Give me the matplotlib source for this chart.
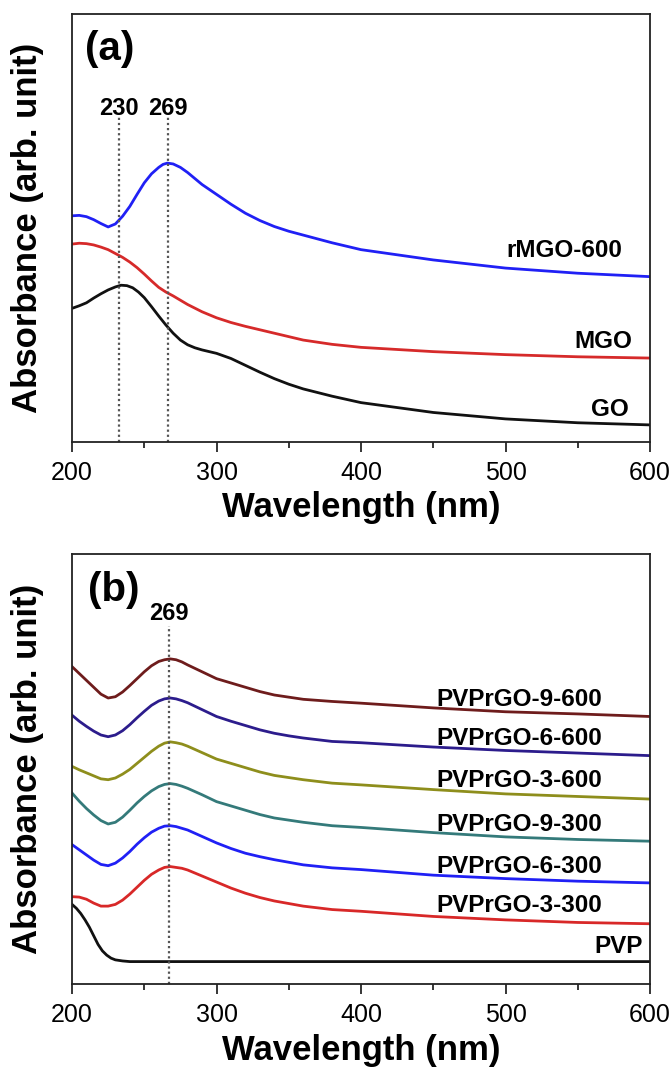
#%%
# UV-vis absorbance spectra, two stacked panels

# IMPORTS #######################################

import matplotlib
matplotlib.use('Agg')
import matplotlib.pyplot as plt
from matplotlib.ticker import MultipleLocator, NullLocator

# SETUP #########################################

plt.rcParams.update({
    'font.family': ['Liberation Sans', 'DejaVu Sans'],
    'font.size': 18,
    'axes.linewidth': 1.3,
})

# DATA ##########################################
# values (arbitrary units, 0..100 = axis height)

# panel (a)
wl_rmgo = [200, 205, 210, 215, 220, 225, 230, 235, 240, 245, 250, 255, 260,
           263, 266, 270, 275, 280, 285, 290, 300, 310, 320, 330, 340, 350,
           360, 380, 400, 450, 500, 550, 600]
abs_rmgo = [52.8, 52.9, 52.6, 51.9, 51.0, 50.2, 50.9, 52.7, 55.0, 57.8, 60.5,
            62.6, 64.1, 64.8, 65.1, 64.9, 64.1, 62.9, 61.5, 60.1, 57.8, 55.5,
            53.4, 51.7, 50.3, 49.2, 48.3, 46.5, 44.9, 42.5, 40.6, 39.4, 38.6]

wl_mgo = [200, 205, 210, 215, 220, 225, 230, 235, 240, 245, 250, 255, 260,
          265, 270, 275, 280, 290, 300, 310, 320, 330, 340, 350, 360, 380,
          400, 450, 500, 550, 600]
abs_mgo = [46.2, 46.4, 46.3, 46.0, 45.5, 44.9, 44.0, 43.1, 42.0, 40.7, 39.2,
           37.6, 36.1, 35.0, 34.1, 33.1, 32.1, 30.4, 29.0, 27.9, 27.0, 26.2,
           25.4, 24.6, 23.8, 22.8, 22.1, 21.1, 20.4, 19.9, 19.6]

wl_go = [200, 205, 210, 215, 220, 225, 230, 234, 238, 242, 246, 250, 255,
         260, 265, 270, 275, 280, 285, 290, 295, 300, 305, 310, 320, 330,
         340, 350, 360, 380, 400, 450, 500, 550, 600]
abs_go = [31.2, 31.8, 32.5, 33.6, 34.6, 35.5, 36.2, 36.6, 36.5, 36.0, 35.0,
          33.7, 31.6, 29.4, 27.3, 25.4, 23.8, 22.7, 22.0, 21.5, 21.1, 20.7,
          20.1, 19.5, 17.9, 16.3, 14.8, 13.5, 12.4, 10.7, 9.2, 6.9, 5.4, 4.5,
          4.0]

labels_a = ['rMGO-600', 'MGO', 'GO']
colors_a = ['#2020f5', '#d62a2a', '#111111']
label_x_a = [581, 588, 585.5]
label_y_a = [43.2, 21.9, 6.1]

peaks_a = [232.7, 266.2]
peak_text_a = ['230', '269']

# panel (b)
wl_b = [200, 205, 210, 215, 220, 225, 230, 235, 240, 245, 250, 255, 260,
        264, 268, 272, 276, 280, 290, 300, 310, 320, 330, 340, 350, 360,
        380, 400, 450, 500, 550, 600]
abs_9_600 = [73.8, 72.2, 70.6, 69.0, 67.4, 66.5, 66.8, 67.9, 69.4, 71.0,
             72.6, 74.0, 75.0, 75.4, 75.6, 75.4, 74.9, 74.2, 72.6, 71.0,
             70.0, 69.0, 68.0, 67.2, 66.7, 66.2, 65.7, 65.3, 64.2, 63.3,
             62.8, 62.2]
abs_6_600 = [62.5, 61.1, 59.9, 58.8, 57.9, 57.5, 57.9, 58.9, 60.3, 61.9,
             63.4, 64.8, 65.8, 66.3, 66.5, 66.3, 65.9, 65.4, 63.8, 62.2,
             61.1, 60.1, 59.1, 58.3, 57.7, 57.2, 56.4, 56.1, 55.1, 54.3,
             53.7, 53.1]
abs_3_600 = [50.6, 49.8, 49.1, 48.4, 47.7, 47.5, 47.9, 48.8, 49.9, 51.3,
             52.7, 54.1, 55.3, 56.0, 56.3, 56.1, 55.8, 55.3, 53.8, 52.3,
             51.3, 50.3, 49.3, 48.5, 48.0, 47.5, 46.7, 46.3, 45.2, 44.2,
             43.6, 43.0]
abs_9_300 = [44.4, 42.5, 40.8, 39.3, 38.0, 37.2, 37.6, 38.8, 40.4, 42.1,
             43.6, 44.9, 45.9, 46.4, 46.6, 46.4, 46.0, 45.5, 44.0, 42.4,
             41.4, 40.4, 39.4, 38.6, 38.1, 37.6, 36.8, 36.4, 35.2, 34.2,
             33.6, 33.2]
abs_6_300 = [32.4, 31.2, 30.0, 28.8, 27.8, 27.5, 28.1, 29.3, 30.8, 32.5,
             34.0, 35.3, 36.2, 36.7, 36.8, 36.6, 36.2, 35.8, 34.3, 32.8,
             31.5, 30.4, 29.6, 28.9, 28.3, 27.7, 27.0, 26.6, 25.3, 24.5,
             23.9, 23.5]
abs_3_300 = [20.3, 20.2, 19.7, 18.8, 18.1, 18.1, 18.5, 19.5, 20.9, 22.5,
             24.1, 25.5, 26.5, 27.1, 27.3, 27.1, 26.9, 26.5, 25.1, 23.7,
             22.3, 21.1, 20.1, 19.3, 18.7, 18.1, 17.3, 16.9, 15.7, 14.9,
             14.3, 14.0]

wl_pvp = [200, 203, 206, 209, 212, 215, 218, 221, 224, 227, 230, 235, 240,
          300, 400, 600]
abs_pvp = [18.5, 17.6, 16.4, 14.9, 13.2, 11.2, 9.2, 7.7, 6.7, 6.0, 5.6,
           5.35, 5.2, 5.2, 5.2, 5.2]

labels_b = ['PVPrGO-9-600', 'PVPrGO-6-600', 'PVPrGO-3-600',
            'PVPrGO-9-300', 'PVPrGO-6-300', 'PVPrGO-3-300', 'PVP']
colors_b = ['#6e1c1c', '#2c1c8c', '#8e8e1c', '#347a7a', '#2020f5',
            '#d82828', '#111111']
label_x_b = [566.6, 566.6, 566.6, 566.6, 566.6, 566.6, 595]
label_y_b = [64.7, 55.6, 45.8, 35.6, 25.8, 16.8, 7.1]

peaks_b = [267.0]
peak_text_b = ['269']

# FIGURE ########################################

fig = plt.figure(figsize=(6.7, 10.68), dpi=100)
ax_a = fig.add_axes([0.1075, 0.5861, 0.8627, 0.4012])
ax_b = fig.add_axes([0.1075, 0.0787, 0.8627, 0.4026])


def style_axis(ax, xlab_y):
    ax.set_xlim(200, 600)
    ax.set_ylim(0, 100)
    ax.xaxis.set_major_locator(MultipleLocator(100))
    ax.xaxis.set_minor_locator(MultipleLocator(50))
    ax.yaxis.set_major_locator(NullLocator())
    ax.yaxis.set_minor_locator(NullLocator())
    ax.tick_params(axis='x', which='major', direction='out', length=7.2,
                   width=1.1, pad=6.5, labelsize=18)
    ax.tick_params(axis='x', which='minor', direction='out', length=4.3,
                   width=1.1)
    for s in ax.spines.values():
        s.set_color('#222222')
    ax.set_xlabel('Wavelength (nm)', fontsize=25, fontweight='bold')
    ax.xaxis.label.set_va('baseline')
    ax.xaxis.set_label_coords(0.5, xlab_y)
    ax.set_ylabel('Absorbance (arb. unit)', fontsize=25, fontweight='bold')
    ax.yaxis.label.set_va('baseline')
    ax.yaxis.set_label_coords(-0.06, 0.5)


# PANEL (a) ##################

style_axis(ax_a, -0.175)
curves_a = [(wl_rmgo, abs_rmgo), (wl_mgo, abs_mgo), (wl_go, abs_go)]
for (x, y), c in zip(curves_a, colors_a):
    ax_a.plot(x, y, color=c, linewidth=2, solid_joinstyle='round')
for t, c, lx, ly in zip(labels_a, colors_a, label_x_a, label_y_a):
    ax_a.text(lx, ly, t, ha='right', va='baseline', fontsize=17.5,
              fontweight='bold')
for p, t in zip(peaks_a, peak_text_a):
    ax_a.plot([p, p], [0, 75.8], color='#555555', linestyle=(0, (1, 1.3)),
              linewidth=1.6)
    ax_a.text(p, 76.3, t, ha='center', va='baseline', fontsize=17,
              fontweight='bold')
ax_a.text(226.3, 91.8, '(a)', ha='center', va='center', fontsize=29,
          fontweight='bold')

# PANEL (b) ##################

style_axis(ax_b, -0.177)
curves_b = [abs_9_600, abs_6_600, abs_3_600, abs_9_300, abs_6_300, abs_3_300]
for y, c in zip(curves_b, colors_b[:6]):
    ax_b.plot(wl_b, y, color=c, linewidth=2, solid_joinstyle='round')
ax_b.plot(wl_pvp, abs_pvp, color=colors_b[6], linewidth=2,
          solid_joinstyle='round')
for t, c, lx, ly in zip(labels_b, colors_b, label_x_b, label_y_b):
    ax_b.text(lx, ly, t, ha='right', va='baseline', fontsize=17.5,
              fontweight='bold')
for p, t in zip(peaks_b, peak_text_b):
    ax_b.plot([p, p], [0, 83.3], color='#555555', linestyle=(0, (1, 1.3)),
              linewidth=1.6)
    ax_b.text(p, 84.7, t, ha='center', va='baseline', fontsize=17,
              fontweight='bold')
ax_b.text(229, 91.6, '(b)', ha='center', va='center', fontsize=29,
          fontweight='bold')

# EXPORT ########################################

plt.savefig('out.png', dpi=100)
# %%
